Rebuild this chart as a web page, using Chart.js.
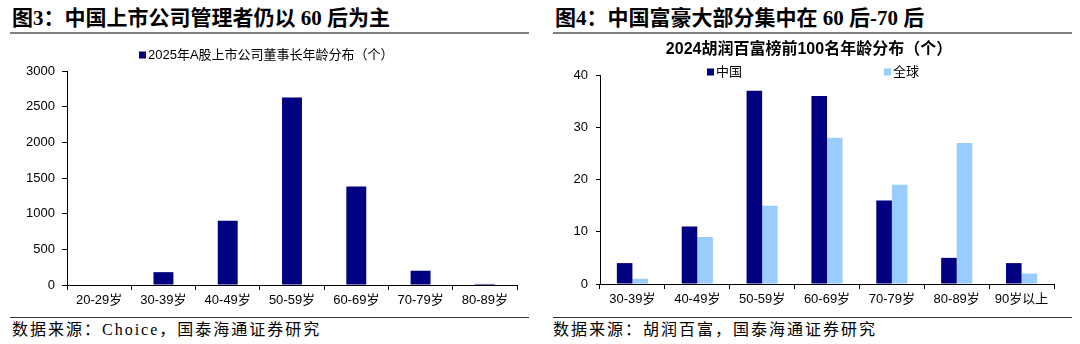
<!DOCTYPE html>
<html>
<head>
<meta charset="utf-8">
<script src="https://cdn.jsdelivr.net/npm/chart.js@4/dist/chart.umd.min.js"></script>
<style>
  body { margin: 0; width: 1080px; height: 344px; background: #fff; position: relative; overflow: hidden; }
  .fig-title { position: absolute; top: 5px; font: bold 21px "Liberation Serif", "Noto Sans CJK SC", serif; line-height: 26px; color: #000; white-space: nowrap; }
  .rule-top { position: absolute; top: 32px; height: 2px; background: #7f7f7f; }
  .rule-bottom { position: absolute; top: 317px; height: 1px; background: #333; }
  .source { position: absolute; top: 319px; font: 16px "Liberation Serif", "Noto Sans CJK SC", serif; letter-spacing: 2px; line-height: 22px; color: #000; white-space: nowrap; }
  canvas { position: absolute; top: 40px; }
</style>
</head>
<body>
<div class="fig-title" style="left:12px">图3：中国上市公司管理者仍以 60 后为主</div>
<div class="rule-top" style="left:10px;width:519px"></div>
<canvas id="chairmanChart" width="540" height="274" style="left:0"></canvas>
<div class="rule-bottom" style="left:10px;width:519px"></div>
<div class="source" style="left:12px">数据来源：Choice，国泰海通证券研究</div>

<div class="fig-title" style="left:555px">图4：中国富豪大部分集中在 60 后-70 后</div>
<div class="rule-top" style="left:553px;width:519px"></div>
<canvas id="hurunChart" width="540" height="274" style="left:540px"></canvas>
<div class="rule-bottom" style="left:553px;width:519px"></div>
<div class="source" style="left:553px">数据来源：胡润百富，国泰海通证券研究</div>

<script>
// A-share chairmen by age group
const chairmanAges = ['20-29岁', '30-39岁', '40-49岁', '50-59岁', '60-69岁', '70-79岁', '80-89岁'];
const chairmanCounts = [0, 180, 900, 2630, 1380, 200, 15];
const chairmanTicks = [0, 500, 1000, 1500, 2000, 2500, 3000];

// Hurun top 100 by age group
const hurunAges = ['30-39岁', '40-49岁', '50-59岁', '60-69岁', '70-79岁', '80-89岁', '90岁以上'];
const hurunChina = [4, 11, 37, 36, 16, 5, 4];
const hurunGlobal = [1, 9, 15, 28, 19, 27, 2];
const hurunTicks = [0, 10, 20, 30, 40];

const NAVY = '#000080';
const SKY = '#99ccff';
const tickFont = { family: '"Liberation Sans", "Noto Sans CJK SC", sans-serif', size: 13 };

// small square + label legend, placed where each chart wants it
const pinnedLegend = {
  id: 'pinnedLegend',
  afterDraw(chart, args, opts) {
    const ctx = chart.ctx;
    ctx.save();
    ctx.font = '13px "Liberation Sans", "Noto Sans CJK SC", sans-serif';
    ctx.textBaseline = 'middle';
    chart.data.datasets.forEach((ds, i) => {
      const p = opts.items[i];
      ctx.fillStyle = ds.backgroundColor;
      ctx.fillRect(p.x, p.y - 3.5, 7, 7);
      ctx.fillStyle = '#000';
      ctx.fillText(ds.label, p.x + 9, p.y);
    });
    ctx.restore();
  }
};

function axisScales(ticks, yWidth, yTickLen, yPad, xHeight) {
  return {
    x: {
      grid: { offset: true, drawOnChartArea: false, tickLength: 5, tickColor: '#000' },
      border: { color: '#000' },
      ticks: { color: '#000', font: tickFont, padding: 3, maxRotation: 0 },
      afterFit(scale) { scale.height = xHeight; }
    },
    y: {
      min: ticks[0],
      max: ticks[ticks.length - 1],
      afterBuildTicks(scale) { scale.ticks = ticks.map(v => ({ value: v })); },
      grid: { drawOnChartArea: false, tickLength: yTickLen, tickColor: '#000' },
      border: { color: '#000' },
      ticks: { color: '#000', font: tickFont, padding: yPad, callback: v => String(v) },
      afterFit(scale) { scale.width = yWidth; }
    }
  };
}

new Chart(document.getElementById('chairmanChart'), {
  type: 'bar',
  data: {
    labels: chairmanAges,
    datasets: [{
      label: '2025年A股上市公司董事长年龄分布（个）',
      data: chairmanCounts,
      backgroundColor: NAVY,
      barPercentage: 0.31,
      categoryPercentage: 1
    }]
  },
  options: {
    responsive: false,
    animation: false,
    layout: { padding: { top: 31, right: 23, left: 0, bottom: 0 } },
    plugins: {
      legend: { display: false },
      tooltip: { enabled: false },
      pinnedLegend: { items: [{ x: 139, y: 15 }] }
    },
    scales: axisScales(chairmanTicks, 67, 5, 7, 29)
  },
  plugins: [pinnedLegend]
});

new Chart(document.getElementById('hurunChart'), {
  type: 'bar',
  data: {
    labels: hurunAges,
    datasets: [
      { label: '中国', data: hurunChina, backgroundColor: NAVY, barPercentage: 1, categoryPercentage: 0.48 },
      { label: '全球', data: hurunGlobal, backgroundColor: SKY, barPercentage: 1, categoryPercentage: 0.48 }
    ]
  },
  options: {
    responsive: false,
    animation: false,
    layout: { padding: { top: 0, right: 26, left: 24, bottom: 0 } },
    plugins: {
      legend: { display: false },
      tooltip: { enabled: false },
      title: {
        display: true,
        text: '2024胡润百富榜前100名年龄分布（个）',
        color: '#000',
        font: { family: '"Liberation Sans", "Noto Sans CJK SC", sans-serif', size: 16, weight: 'bold', lineHeight: 1.2 },
        padding: { top: 0, bottom: 15.8 }
      },
      pinnedLegend: { items: [{ x: 167, y: 32 }, { x: 344, y: 32 }] }
    },
    scales: axisScales(hurunTicks, 36, 4, 8, 30)
  },
  plugins: [pinnedLegend]
});
</script>
</body>
</html>
